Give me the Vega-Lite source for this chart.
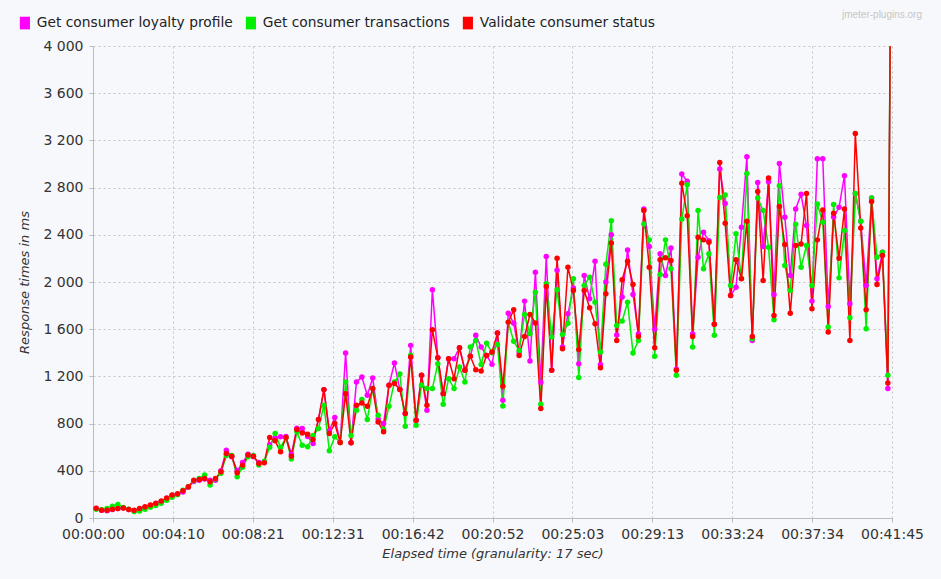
{
  "$schema": "https://vega.github.io/schema/vega-lite/v6.json",
  "width": 799,
  "height": 472,
  "autosize": {"type": "none"},
  "padding": {"left": 93, "top": 46, "right": 49, "bottom": 61},
  "background": "#f7f8fb",
  "config": {
    "view": {"stroke": null},
    "font": "DejaVu Sans",
    "axis": {
      "gridColor": "#c4c4c4",
      "gridDash": [2, 3],
      "gridWidth": 1,
      "domainColor": "#b8bcc4",
      "tickColor": "#b8bcc4",
      "tickSize": 4,
      "labelColor": "#333333",
      "labelFontSize": 14,
      "labelFlush": false,
      "titleColor": "#333333",
      "titleFontSize": 13,
      "titleFontStyle": "italic",
      "titleFontWeight": "normal"
    }
  },
  "title": {
    "text": "jmeter-plugins.org",
    "anchor": "end",
    "frame": "group",
    "font": "Liberation Sans",
    "fontSize": 10,
    "fontWeight": "normal",
    "color": "#c6c6c6",
    "dx": 30,
    "offset": -4
  },
  "datasets": {
    "rows": [
      {"t":10,"p":80,"g":75,"r":82},
      {"t":27,"p":65,"g":70,"r":65},
      {"t":44,"p":62,"g":80,"r":65},
      {"t":61,"p":72,"g":100,"r":75},
      {"t":78,"p":80,"g":115,"r":80},
      {"t":95,"p":85,"g":90,"r":85},
      {"t":112,"p":72,"g":75,"r":72},
      {"t":129,"p":62,"g":55,"r":65},
      {"t":146,"p":75,"g":60,"r":80},
      {"t":163,"p":90,"g":75,"r":95},
      {"t":180,"p":105,"g":90,"r":110},
      {"t":197,"p":120,"g":105,"r":125},
      {"t":214,"p":140,"g":125,"r":145},
      {"t":231,"p":165,"g":150,"r":170},
      {"t":248,"p":190,"g":175,"r":195},
      {"t":265,"p":200,"g":200,"r":205},
      {"t":282,"p":220,"g":235,"r":230},
      {"t":299,"p":260,"g":265,"r":265},
      {"t":316,"p":310,"g":315,"r":320},
      {"t":333,"p":320,"g":335,"r":327},
      {"t":350,"p":330,"g":364,"r":335},
      {"t":367,"p":321,"g":279,"r":307},
      {"t":384,"p":320,"g":330,"r":335},
      {"t":401,"p":400,"g":380,"r":392},
      {"t":418,"p":575,"g":530,"r":547},
      {"t":435,"p":520,"g":530,"r":524},
      {"t":452,"p":400,"g":349,"r":383},
      {"t":469,"p":470,"g":430,"r":448},
      {"t":486,"p":540,"g":520,"r":533},
      {"t":503,"p":520,"g":530,"r":524},
      {"t":520,"p":470,"g":450,"r":462},
      {"t":537,"p":475,"g":480,"r":468},
      {"t":554,"p":620,"g":600,"r":682},
      {"t":571,"p":680,"g":716,"r":654},
      {"t":588,"p":688,"g":600,"r":561},
      {"t":605,"p":690,"g":680,"r":682},
      {"t":622,"p":540,"g":500,"r":524},
      {"t":639,"p":760,"g":730,"r":750},
      {"t":656,"p":758,"g":617,"r":720},
      {"t":673,"p":690,"g":603,"r":710},
      {"t":690,"p":632,"g":700,"r":665},
      {"t":707,"p":835,"g":759,"r":835},
      {"t":724,"p":1088,"g":956,"r":1088},
      {"t":741,"p":740,"g":569,"r":716},
      {"t":758,"p":852,"g":688,"r":801},
      {"t":775,"p":640,"g":640,"r":640},
      {"t":792,"p":1398,"g":1153,"r":1054},
      {"t":809,"p":637,"g":700,"r":637},
      {"t":826,"p":1153,"g":913,"r":956},
      {"t":843,"p":1195,"g":1004,"r":975},
      {"t":860,"p":1040,"g":835,"r":947},
      {"t":877,"p":1187,"g":1097,"r":1097},
      {"t":894,"p":840,"g":870,"r":814},
      {"t":911,"p":800,"g":750,"r":730},
      {"t":928,"p":1125,"g":947,"r":1125},
      {"t":945,"p":1313,"g":1153,"r":1140},
      {"t":962,"p":1090,"g":1220,"r":1090},
      {"t":979,"p":885,"g":778,"r":885},
      {"t":996,"p":1463,"g":1380,"r":1364},
      {"t":1013,"p":829,"g":786,"r":829},
      {"t":1030,"p":1209,"g":1125,"r":1209},
      {"t":1047,"p":913,"g":1097,"r":956},
      {"t":1064,"p":1934,"g":1097,"r":1596},
      {"t":1081,"p":1359,"g":1308,"r":1359},
      {"t":1098,"p":1054,"g":964,"r":1054},
      {"t":1115,"p":1350,"g":1181,"r":1350},
      {"t":1132,"p":1350,"g":1097,"r":1181},
      {"t":1149,"p":1443,"g":1280,"r":1443},
      {"t":1166,"p":1252,"g":1153,"r":1252},
      {"t":1183,"p":1370,"g":1449,"r":1370},
      {"t":1200,"p":1548,"g":1505,"r":1257},
      {"t":1217,"p":1449,"g":1300,"r":1246},
      {"t":1234,"p":1378,"g":1482,"r":1378},
      {"t":1251,"p":1302,"g":1400,"r":1406},
      {"t":1268,"p":1567,"g":1470,"r":1567},
      {"t":1285,"p":998,"g":950,"r":1116},
      {"t":1302,"p":1736,"g":1660,"r":1660},
      {"t":1319,"p":1650,"g":1497,"r":1765},
      {"t":1336,"p":1400,"g":1420,"r":1378},
      {"t":1353,"p":1838,"g":1725,"r":1539},
      {"t":1370,"p":1330,"g":1562,"r":1725},
      {"t":1387,"p":2083,"g":1914,"r":1652},
      {"t":1404,"p":1150,"g":964,"r":928},
      {"t":1421,"p":2216,"g":1985,"r":1962},
      {"t":1438,"p":1252,"g":1533,"r":1252},
      {"t":1455,"p":2100,"g":1934,"r":2201},
      {"t":1472,"p":1450,"g":1556,"r":1435},
      {"t":1489,"p":1730,"g":1650,"r":2125},
      {"t":1506,"p":1950,"g":2027,"r":1928},
      {"t":1523,"p":1308,"g":1190,"r":1427},
      {"t":1540,"p":2055,"g":1970,"r":1928},
      {"t":1557,"p":1858,"g":2041,"r":1782},
      {"t":1574,"p":2176,"g":1829,"r":1646},
      {"t":1591,"p":1300,"g":1406,"r":1274},
      {"t":1608,"p":2000,"g":2150,"r":1900},
      {"t":1625,"p":2400,"g":2520,"r":2331},
      {"t":1642,"p":1550,"g":1632,"r":1505},
      {"t":1659,"p":1872,"g":1669,"r":2019},
      {"t":1676,"p":2272,"g":1829,"r":2176},
      {"t":1693,"p":1894,"g":1398,"r":1979},
      {"t":1710,"p":1560,"g":1505,"r":1539},
      {"t":1727,"p":2619,"g":2492,"r":2605},
      {"t":1744,"p":2300,"g":2357,"r":2125},
      {"t":1761,"p":1600,"g":1370,"r":1443},
      {"t":1778,"p":2239,"g":2063,"r":2188},
      {"t":1795,"p":2055,"g":2357,"r":2205},
      {"t":1812,"p":2289,"g":2112,"r":2182},
      {"t":1829,"p":1260,"g":1209,"r":1252},
      {"t":1846,"p":2915,"g":2534,"r":2836},
      {"t":1863,"p":2853,"g":2825,"r":2562},
      {"t":1880,"p":1560,"g":1449,"r":1539},
      {"t":1897,"p":2210,"g":2605,"r":2379},
      {"t":1914,"p":2421,"g":2112,"r":2357},
      {"t":1931,"p":2350,"g":2239,"r":2337},
      {"t":1948,"p":1641,"g":1548,"r":1641},
      {"t":1965,"p":2957,"g":2717,"r":3013},
      {"t":1982,"p":2666,"g":2738,"r":2497},
      {"t":1999,"p":1886,"g":1970,"r":1886},
      {"t":2016,"p":1956,"g":2408,"r":2188},
      {"t":2033,"p":2464,"g":2030,"r":2027},
      {"t":2050,"p":3061,"g":2920,"r":2514},
      {"t":2067,"p":1505,"g":1520,"r":1539},
      {"t":2084,"p":2844,"g":2712,"r":2768},
      {"t":2101,"p":2300,"g":2605,"r":2013},
      {"t":2118,"p":2850,"g":2294,"r":2881},
      {"t":2135,"p":1894,"g":1680,"r":1717},
      {"t":2152,"p":3005,"g":2816,"r":2639},
      {"t":2169,"p":2548,"g":2140,"r":2317},
      {"t":2186,"p":2055,"g":1928,"r":1736},
      {"t":2203,"p":2619,"g":2490,"r":2309},
      {"t":2220,"p":2743,"g":2125,"r":2323},
      {"t":2237,"p":2478,"g":2309,"r":2751},
      {"t":2254,"p":1838,"g":1970,"r":1773},
      {"t":2271,"p":3044,"g":2661,"r":2357},
      {"t":2288,"p":3044,"g":2506,"r":2611},
      {"t":2305,"p":1793,"g":1618,"r":1576},
      {"t":2322,"p":2550,"g":2656,"r":2582},
      {"t":2339,"p":2633,"g":2035,"r":2201},
      {"t":2356,"p":2901,"g":2436,"r":2619},
      {"t":2373,"p":1816,"g":1697,"r":1505},
      {"t":2390,"p":2751,"g":2751,"r":3259},
      {"t":2407,"p":2514,"g":2514,"r":2458},
      {"t":2424,"p":1970,"g":1604,"r":1765},
      {"t":2441,"p":2712,"g":2712,"r":2683},
      {"t":2458,"p":2027,"g":2210,"r":1979},
      {"t":2475,"p":2252,"g":2252,"r":2224},
      {"t":2492,"p":1097,"g":1209,"r":1144},
      {"t":2509,"p":8000,"g":8000,"r":8000}
    ]
  },
  "encoding": {
    "x": {
      "field": "t",
      "type": "quantitative",
      "scale": {"domain": [0, 2505], "nice": false, "zero": false},
      "axis": {
        "values": [0, 250.5, 501, 751.5, 1002, 1252.5, 1503, 1753.5, 2004, 2254.5, 2505],
        "labelExpr": "utcFormat(datum.value * 1000, '%H:%M:%S')",
        "title": "Elapsed time (granularity: 17 sec)",
        "labelPadding": 5,
        "titlePadding": 6
      }
    },
    "y": {
      "field": "v",
      "type": "quantitative",
      "scale": {"domain": [0, 4000], "nice": false},
      "axis": {
        "values": [0, 400, 800, 1200, 1600, 2000, 2400, 2800, 3200, 3600, 4000],
        "labelExpr": "replace(format(datum.value, ','), ',', ' ')",
        "title": "Response times in ms",
        "labelPadding": 6,
        "titlePadding": 11
      }
    }
  },
  "layer": [
    {
      "data": {"values": [{}]},
      "mark": {
        "type": "rect",
        "color": {
          "gradient": "linear",
          "x1": 0, "y1": 0, "x2": 0, "y2": 1,
          "stops": [
            {"offset": 0, "color": "#ffffff"},
            {"offset": 0.18, "color": "#fbf5fa"},
            {"offset": 0.3, "color": "#f2f3fb"},
            {"offset": 0.8, "color": "#eef1fb"},
            {"offset": 1, "color": "#ecedf4"}
          ]
        }
      },
      "encoding": {
        "x": {"datum": 0, "type": "quantitative"},
        "x2": {"datum": 2505},
        "y": {"datum": 0, "type": "quantitative"},
        "y2": {"datum": 4000}
      }
    },
    {
      "data": {"name": "rows"},
      "transform": [{"fold": ["p", "g", "r"], "as": ["s", "v"]}],
      "mark": {"type": "line", "clip": true, "strokeWidth": 1.5},
      "encoding": {
        "color": {
          "field": "s",
          "type": "nominal",
          "scale": {"domain": ["p", "g", "r"], "range": ["#ff00ff", "#00ee00", "#ff0000"]},
          "legend": {
            "orient": "none",
            "legendX": -75,
            "legendY": -30,
            "direction": "horizontal",
            "title": null,
            "symbolType": "M-0.8,-1H0.8V1H-0.8Z",
            "symbolSize": 160,
            "symbolStrokeWidth": 0,
            "labelFontSize": 13.8,
            "labelColor": "#222222",
            "labelLimit": 400,
            "columnPadding": 11,
            "labelOffset": 5,
            "labelExpr": "datum.label == 'p' ? 'Get consumer loyalty profile' : datum.label == 'g' ? 'Get consumer transactions' : 'Validate consumer status'"
          }
        },
        "order": {"field": "t", "type": "quantitative"}
      }
    },
    {
      "data": {"name": "rows"},
      "transform": [{"fold": ["p", "g", "r"], "as": ["s", "v"]}],
      "mark": {"type": "point", "filled": true, "opacity": 1, "size": 30, "clip": true},
      "encoding": {
        "color": {"field": "s", "type": "nominal"}
      }
    }
  ]
}
